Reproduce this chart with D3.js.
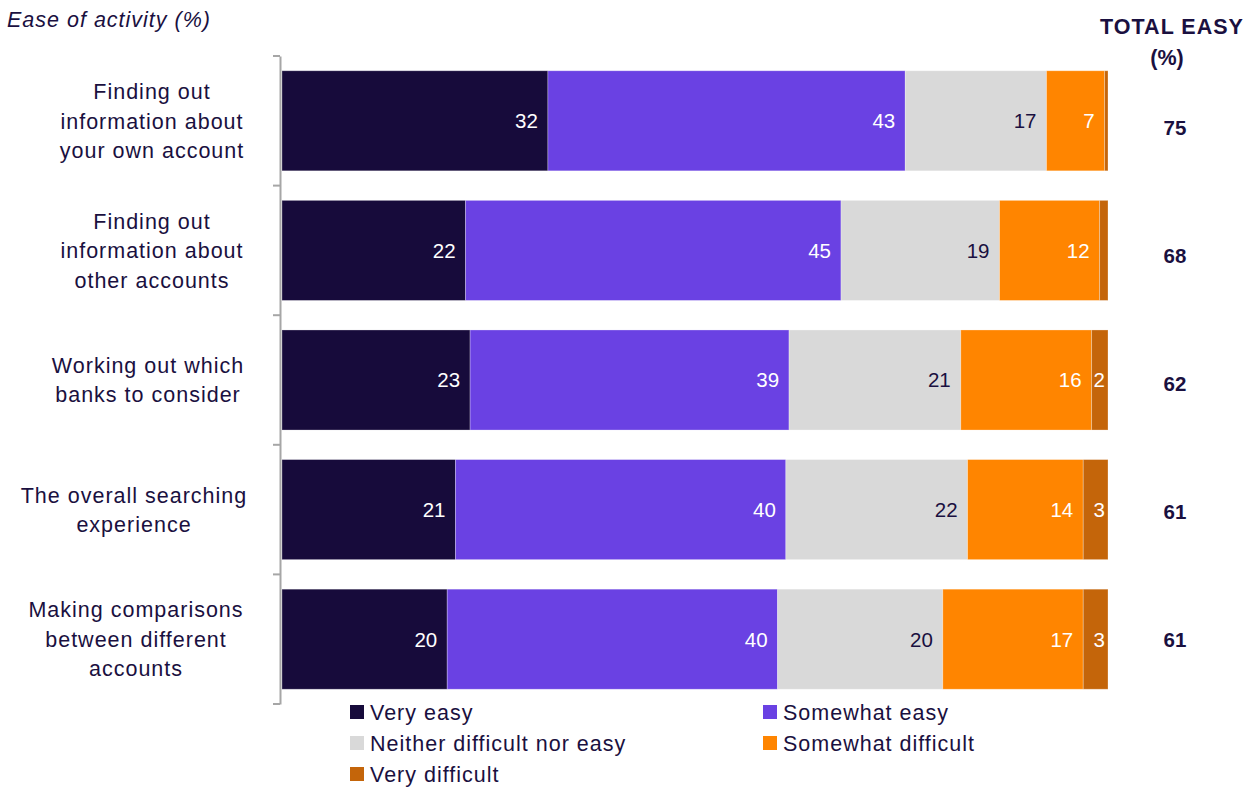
<!DOCTYPE html>
<html>
<head>
<meta charset="utf-8">
<script src="https://cdn.jsdelivr.net/npm/d3@7"></script>
<style>
  html, body { margin: 0; padding: 0; background: #fff; }
  svg { display: block; font-family: "Liberation Sans", Arial, sans-serif; }
  .wide { letter-spacing: 1px; }
</style>
</head>
<body>
<svg id="chart" width="1255" height="789"></svg>
<script>
// Survey responses: ease of each search activity (%)
const activities = [
  ["Finding out", "information about", "your own account"],
  ["Finding out", "information about", "other accounts"],
  ["Working out which", "banks to consider"],
  ["The overall searching", "experience"],
  ["Making comparisons", "between different", "accounts"]
];
const responseLevels = ["Very easy", "Somewhat easy", "Neither difficult nor easy", "Somewhat difficult", "Very difficult"];
const veryEasy          = [32, 22, 23, 21, 20];
const somewhatEasy      = [43, 45, 39, 40, 40];
const neither           = [17, 19, 21, 22, 20];
const somewhatDifficult = [7, 12, 16, 14, 17];
const veryDifficult     = [0.4, 1, 2, 3, 3];
const totalEasy         = [75, 68, 62, 61, 61];
const levelColors = ["#170b3b", "#6a41e3", "#d9d9d9", "#ff8500", "#c4650a"];

const seriesArrays = [veryEasy, somewhatEasy, neither, somewhatDifficult, veryDifficult];
const rows = activities.map((a, i) => {
  const r = { key: i };
  responseLevels.forEach((lvl, j) => { r[lvl] = seriesArrays[j][i]; });
  return r;
});

const svg = d3.select("#chart");
const textColor = "#1a1040";
const fs = 21.5;
// horizontal centre of each category label block
const labelCentres = [152, 152, 148, 134, 136];

const x = d3.scaleLinear().domain([0, 1]).range([282, 1108]);
const y = d3.scaleBand().domain(d3.range(activities.length)).range([56, 704])
  .paddingInner(0.228).paddingOuter(0.114);
const yTotals = d3.scaleBand().domain(d3.range(activities.length)).range([64, 704]);
const color = d3.scaleOrdinal().domain(responseLevels).range(levelColors);

// Each row is shown as shares of its own total
const stacked = d3.stack().keys(responseLevels).offset(d3.stackOffsetExpand)(rows);

const layer = svg.append("g").selectAll("g").data(stacked).join("g")
  .attr("fill", d => color(d.key));

layer.selectAll("rect").data(d => d).join("rect")
  .attr("x", d => x(d[0]))
  .attr("y", d => y(d.data.key))
  .attr("width", d => x(d[1]) - x(d[0]))
  .attr("height", y.bandwidth())
  .attr("stroke", "#ffffff")
  .attr("stroke-opacity", 0.35)
  .attr("stroke-width", 0.8);

// Value labels inside segments (small shares left unlabelled)
stacked.forEach((s, j) => {
  const lvl = s.key;
  svg.append("g").selectAll("text")
    .data(s.filter(d => d.data[lvl] >= 2))
    .join("text")
    .attr("x", d => x(d[1]) - (j === 4 ? 3 : 10))
    .attr("y", d => y(d.data.key) + y.bandwidth() / 2)
    .attr("dy", "0.36em")
    .attr("text-anchor", "end")
    .attr("font-size", 20.5)
    .attr("fill", j === 2 ? textColor : "#ffffff")
    .text(d => d.data[lvl]);
});

// Category axis on the left
const axis = d3.axisLeft(y).tickValues([]).tickSize(0).tickSizeOuter(0);
const axisG = svg.append("g").attr("transform", "translate(280,0)").call(axis);
axisG.select(".domain").attr("stroke", "#a6a6a6").attr("stroke-width", 2);
const boundaries = d3.range(activities.length + 1).map(i => 56 + i * y.step());
axisG.selectAll(".sep").data(boundaries).join("line")
  .attr("class", "sep")
  .attr("x1", -7).attr("x2", 0)
  .attr("y1", d => d).attr("y2", d => d)
  .attr("stroke", "#a6a6a6").attr("stroke-width", 2);

// Multi-line category labels
const catG = svg.append("g");
activities.forEach((lines, i) => {
  const cy = y(i) + y.bandwidth() / 2;
  const lh = 29.5;
  const t = catG.append("text")
    .attr("class", "wide")
    .attr("text-anchor", "middle")
    .attr("font-size", fs)
    .attr("fill", textColor);
  lines.forEach((ln, k) => {
    t.append("tspan")
      .attr("x", labelCentres[i])
      .attr("y", cy + (k - (lines.length - 1) / 2) * lh)
      .attr("dy", "0.36em")
      .text(ln);
  });
});

// Total easy column
svg.append("g").selectAll("text").data(totalEasy).join("text")
  .attr("x", 1175)
  .attr("y", (d, i) => yTotals(i) + yTotals.bandwidth() / 2)
  .attr("dy", "0.36em")
  .attr("text-anchor", "middle")
  .attr("font-size", 20.5)
  .attr("font-weight", "bold")
  .attr("fill", textColor)
  .text(d => d);

svg.append("text").attr("class", "wide").attr("x", 1172).attr("y", 34)
  .attr("text-anchor", "middle").attr("font-size", fs).attr("font-weight", "bold")
  .attr("fill", textColor).text("TOTAL EASY");
svg.append("text").attr("x", 1167).attr("y", 65)
  .attr("text-anchor", "middle").attr("font-size", fs).attr("font-weight", "bold")
  .attr("fill", textColor).text("(%)");

// Title
svg.append("text").attr("class", "wide").attr("x", 7).attr("y", 27)
  .attr("font-size", fs).attr("font-style", "italic")
  .attr("fill", textColor).text("Ease of activity (%)");

// Legend
const legendPos = [[350, 712], [763, 712], [350, 743], [763, 743], [350, 774]];
const legend = svg.append("g").selectAll("g").data(responseLevels).join("g")
  .attr("transform", (d, i) => `translate(${legendPos[i][0]},${legendPos[i][1]})`);
legend.append("rect").attr("x", 0).attr("y", -7).attr("width", 14).attr("height", 14)
  .attr("fill", d => color(d));
legend.append("text").attr("class", "wide").attr("x", 20).attr("y", 0).attr("dy", "0.36em")
  .attr("font-size", fs).attr("fill", textColor).text(d => d);
</script>
</body>
</html>
